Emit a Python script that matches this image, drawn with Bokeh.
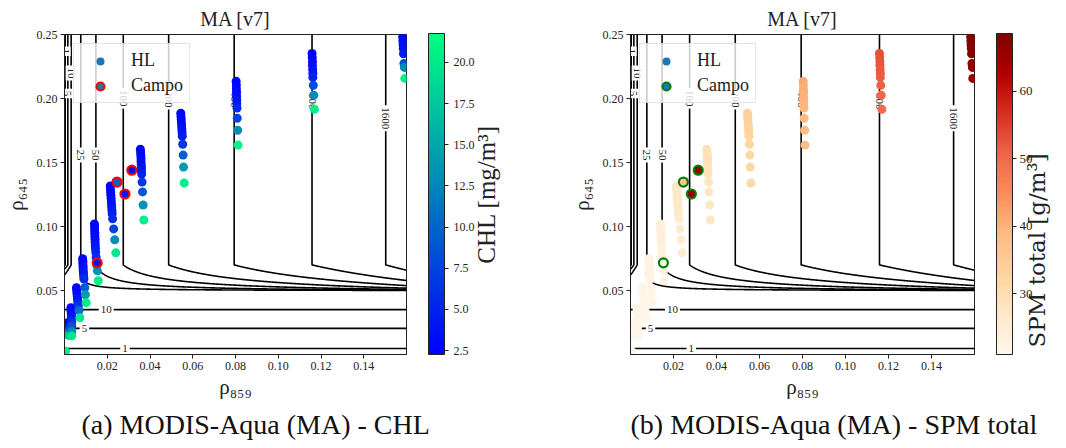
import numpy as np
from bokeh.plotting import figure
from bokeh.layouts import row
from bokeh.models import (ColumnDataSource, LinearColorMapper, ColorBar, FixedTicker,
                          PrintfTickFormatter, Legend, LegendItem, Title, LinearAxis)
from bokeh.transform import transform
from bokeh.core.properties import value
from bokeh.embed import file_html
from bokeh.resources import INLINE

SERIF = "Liberation Serif"
WIDE_SERIF = "DejaVu Serif"

# ---------------- HL points, one list per column ----------------
colA0_x = [0.0005]
colA0_y = [0.0025]
colA0_chl = [20.5]
colA0_spm = [21.2]

colA1_x = [0.0014, 0.0015, 0.0015, 0.0016, 0.0016, 0.0017, 0.0018, 0.0019]
colA1_y = [0.0249, 0.0238, 0.0227, 0.0216, 0.0205, 0.0190, 0.0171, 0.0150]
colA1_chl = [2.4, 2.7, 3.0, 3.5, 4.2, 6.0, 10.0, 17.0]
colA1_spm = [21.8, 21.8, 21.6, 21.6, 21.5, 21.5, 21.3, 21.3]

colA2_x = [0.0030, 0.0031, 0.0031, 0.0032, 0.0032, 0.0033, 0.0033, 0.0034, 0.0034, 0.0034, 0.0034]
colA2_y = [0.0366, 0.0350, 0.0334, 0.0318, 0.0302, 0.0286, 0.0270, 0.0250, 0.0220, 0.0180, 0.0145]
colA2_chl = [2.3, 2.5, 2.8, 3.1, 3.5, 4.0, 4.7, 6.0, 8.5, 13.0, 20.0]
colA2_spm = [22.0, 22.0, 22.0, 22.0, 21.8, 21.8, 21.8, 21.6, 21.6, 21.5, 21.5]

colB_x = [0.0056, 0.0057, 0.0058, 0.0059, 0.0060, 0.0061, 0.0062, 0.0063, 0.0065, 0.0068, 0.0072]
colB_y = [0.0522, 0.0505, 0.0488, 0.0471, 0.0454, 0.0437, 0.0420, 0.0400, 0.0380, 0.0343, 0.0288]
colB_chl = [2.3, 2.5, 2.8, 3.1, 3.4, 3.8, 4.3, 5.0, 6.5, 11.0, 20.0]
colB_spm = [22.5, 22.5, 22.5, 22.0, 22.0, 22.0, 22.0, 22.0, 21.8, 21.8, 21.5]

colC_x = [0.0085, 0.0086, 0.0086, 0.0087, 0.0087, 0.0088, 0.0089, 0.0090, 0.0091, 0.0095, 0.0098, 0.0102]
colC_y = [0.0748, 0.0728, 0.0708, 0.0688, 0.0668, 0.0648, 0.0628, 0.0608, 0.0590, 0.0522, 0.0467, 0.0405]
colC_chl = [2.3, 2.5, 2.7, 3.0, 3.3, 3.6, 4.0, 4.6, 5.5, 9.0, 14.0, 20.5]
colC_spm = [23.0, 23.0, 23.0, 23.0, 22.5, 22.5, 22.5, 22.5, 22.5, 22.0, 22.0, 22.0]

colD_x = [0.0140, 0.0141, 0.0141, 0.0142, 0.0142, 0.0143, 0.0143, 0.0144, 0.0145, 0.0146, 0.0148, 0.0151, 0.0154, 0.0158]
colD_y = [0.1020, 0.0996, 0.0972, 0.0948, 0.0924, 0.0900, 0.0876, 0.0852, 0.0828, 0.0800, 0.0760, 0.0700, 0.0654, 0.0576]
colD_chl = [2.3, 2.5, 2.7, 2.9, 3.1, 3.3, 3.6, 3.9, 4.3, 4.9, 5.8, 8.0, 13.5, 20.5]
colD_spm = [24.5, 24.5, 24.5, 24.0, 24.0, 24.0, 24.0, 24.0, 23.5, 23.5, 23.5, 23.0, 23.0, 23.0]

colE_x = [0.0214, 0.0215, 0.0216, 0.0217, 0.0218, 0.0219, 0.0220, 0.0221, 0.0222, 0.0223, 0.0225, 0.0230, 0.0235, 0.0240]
colE_y = [0.1316, 0.1292, 0.1268, 0.1244, 0.1220, 0.1196, 0.1172, 0.1148, 0.1124, 0.1100, 0.1060, 0.0981, 0.0896, 0.0794]
colE_chl = [2.3, 2.5, 2.7, 2.9, 3.1, 3.3, 3.6, 3.9, 4.3, 4.8, 5.6, 7.5, 13.0, 20.0]
colE_spm = [27.5, 27.5, 27.0, 27.0, 27.0, 27.0, 26.5, 26.5, 26.5, 26.5, 26.0, 26.0, 25.5, 25.5]

colF_x = [0.0355, 0.0356, 0.0357, 0.0358, 0.0358, 0.0359, 0.0360, 0.0360, 0.0361, 0.0363, 0.0365, 0.0368, 0.0371]
colF_y = [0.1604, 0.1580, 0.1556, 0.1532, 0.1508, 0.1484, 0.1459, 0.1435, 0.1410, 0.1347, 0.1270, 0.1168, 0.1051]
colF_chl = [2.3, 2.5, 2.7, 2.9, 3.1, 3.4, 3.7, 4.1, 4.7, 6.5, 9.0, 13.5, 20.5]
colF_spm = [29.5, 29.5, 29.0, 29.0, 29.0, 29.0, 28.5, 28.5, 28.5, 28.0, 28.0, 27.5, 27.5]

colG_x = [0.0544, 0.0545, 0.0546, 0.0547, 0.0548, 0.0549, 0.0550, 0.0551, 0.0553, 0.0555, 0.0557, 0.0560]
colG_y = [0.1885, 0.1860, 0.1835, 0.1810, 0.1785, 0.1758, 0.1732, 0.1706, 0.1643, 0.1558, 0.1464, 0.1340]
colG_chl = [2.3, 2.5, 2.7, 2.9, 3.2, 3.5, 3.9, 4.5, 6.5, 9.5, 14.0, 20.5]
colG_spm = [34.0, 34.0, 33.5, 33.5, 33.0, 33.0, 33.0, 32.5, 32.5, 32.0, 32.0, 31.5]

colH_x = [0.0803, 0.0804, 0.0804, 0.0805, 0.0805, 0.0806, 0.0806, 0.0807, 0.0808, 0.0810, 0.0812]
colH_y = [0.2134, 0.2105, 0.2076, 0.2047, 0.2018, 0.1989, 0.1960, 0.1925, 0.1846, 0.1752, 0.1636]
colH_chl = [2.4, 2.6, 2.8, 3.1, 3.4, 3.8, 4.4, 5.3, 7.5, 13.0, 21.0]
colH_spm = [41.0, 41.0, 40.5, 40.5, 40.0, 40.0, 39.5, 39.5, 39.0, 38.5, 38.0]

colI_x = [0.1158, 0.1159, 0.1160, 0.1160, 0.1161, 0.1162, 0.1162, 0.1164, 0.1166, 0.1169]
colI_y = [0.2352, 0.2321, 0.2290, 0.2259, 0.2227, 0.2196, 0.2165, 0.2103, 0.2025, 0.1916]
colI_chl = [2.4, 2.6, 2.9, 3.2, 3.6, 4.2, 5.0, 8.0, 13.0, 20.5]
colI_spm = [53.0, 53.0, 52.5, 52.5, 52.0, 52.0, 51.5, 51.0, 50.5, 50.0]

colJ_x = [0.1580, 0.1581, 0.1582, 0.1583, 0.1584, 0.1585, 0.1586, 0.1588, 0.1590, 0.1592]
colJ_y = [0.2560, 0.2520, 0.2480, 0.2450, 0.2420, 0.2390, 0.2350, 0.2274, 0.2243, 0.2157]
colJ_chl = [2.3, 2.5, 2.7, 3.0, 3.3, 3.8, 4.6, 8.5, 13.0, 20.5]
colJ_spm = [69.0, 68.5, 68.0, 68.0, 67.5, 67.0, 67.0, 66.5, 66.0, 65.5]

hl_x = colA0_x + colA1_x + colA2_x + colB_x + colC_x + colD_x + colE_x + colF_x + colG_x + colH_x + colI_x + colJ_x
hl_y = colA0_y + colA1_y + colA2_y + colB_y + colC_y + colD_y + colE_y + colF_y + colG_y + colH_y + colI_y + colJ_y
hl_chl = colA0_chl + colA1_chl + colA2_chl + colB_chl + colC_chl + colD_chl + colE_chl + colF_chl + colG_chl + colH_chl + colI_chl + colJ_chl
hl_spm = colA0_spm + colA1_spm + colA2_spm + colB_spm + colC_spm + colD_spm + colE_spm + colF_spm + colG_spm + colH_spm + colI_spm + colJ_spm

# ---------------- Campo (field) points ----------------
campo_x = [0.0315, 0.0246, 0.0283, 0.0153]
campo_y = [0.1440, 0.1347, 0.1254, 0.0716]
campo_chl = [3.0, 9.5, 4.0, 4.0]
campo_spm = [66.0, 36.0, 66.0, 22.0]

# ---------------- SPM model used for the contour lines ----------------
A859, C859 = 3170.0, 0.214     # NIR branch (rho859)
A645, C645 = 204.5, 0.1235     # red branch (rho645)
BLEND_LO, BLEND_HI = 0.05, 0.07
contour_levels = [1, 5, 10, 25, 50, 100, 200, 400, 800, 1600]
vlabel_levels = [1, 5, 10, 25, 50, 100, 200, 400, 800, 1600]
vlabel_y = [0.237, 0.204, 0.220, 0.1558, 0.1558, 0.2002, 0.1994, 0.1994, 0.1978, 0.1846]
hlabel_levels = [1, 5, 10]
hlabel_x = [0.0283, 0.0093, 0.0195]

x_ticks = [0.02, 0.04, 0.06, 0.08, 0.10, 0.12, 0.14]
y_ticks = [0.05, 0.10, 0.15, 0.20, 0.25]
chl_ticks = [2.5, 5.0, 7.5, 10.0, 12.5, 15.0, 17.5, 20.0]
spm_ticks = [30, 40, 50, 60]
CHL_LOW, CHL_HIGH = 2.26, 21.76
SPM_LOW, SPM_HIGH = 21.0, 68.6

# ---------------- palettes ----------------
def to_hex(r, g, b):
    return "#%02x%02x%02x" % (int(round(r)), int(round(g)), int(round(b)))

winter = [to_hex(0, 255 * t, 255 * (1 - 0.5 * t)) for t in np.linspace(0, 1, 256)]
orrd_nodes = ["#fff7ec", "#fee8c8", "#fdd49e", "#fdbb84", "#fc8d59", "#ef6548", "#d7301f", "#b30000", "#7f0000"]
_rgb = np.array([[int(c[i:i + 2], 16) for i in (1, 3, 5)] for c in orrd_nodes], dtype=float)
_pos = np.linspace(0, 1, len(orrd_nodes))
orrd = [to_hex(*[np.interp(t, _pos, _rgb[:, k]) for k in range(3)]) for t in np.linspace(0, 1, 256)]

# ---------------- contour grid ----------------
gx = np.linspace(0.0, 0.16, 641)
gy = np.linspace(0.0, 0.25, 1001)
GX, GY = np.meshgrid(gx, gy)
f859 = A859 * GX / (1.0 - GX / C859)
ysafe = np.minimum(GY, 0.1)
f645 = A645 * ysafe / (1.0 - ysafe / C645)
w = np.clip((GY - BLEND_LO) / (BLEND_HI - BLEND_LO), 0.0, 1.0)
Z = (1.0 - w) * f645 + w * f859


def make_panel(color_values, palette, low, high, ticks, fmt, ring_color, cb_label,
               cb_label_font, cb_label_size, cb_tick_size, cb_tick_standoff, cb_label_standoff,
               cb_label_start, width, border_left, border_right, caption, caption_offset):
    p = figure(width=width, height=448, x_range=(0.0, 0.16), y_range=(0.0, 0.25),
               output_backend="svg", toolbar_location=None,
               min_border_left=border_left, min_border_right=border_right,
               min_border_top=33, min_border_bottom=94)
    p.grid.visible = False
    p.outline_line_color = "#222222"
    p.background_fill_color = "white"

    p.title.text = "MA [v7]"
    p.title.align = "center"
    p.title.text_font = SERIF
    p.title.text_font_size = "20px"
    p.title.text_font_style = "normal"
    p.title.text_color = "#222222"

    for ax in (p.xaxis[0], p.yaxis[0]):
        ax.major_tick_in = 0
        ax.major_tick_out = 4
        ax.minor_tick_line_color = None
        ax.major_label_text_font = SERIF
        ax.major_label_text_font_size = "12px"
        ax.major_label_text_color = "#222222"
        ax.axis_line_color = "#222222"
        ax.major_tick_line_color = "#222222"
        ax.axis_label_text_font = SERIF
        ax.axis_label_text_font_size = "21px"
        ax.axis_label_text_font_style = "normal"
        ax.axis_label_text_color = "#222222"
        ax.major_label_standoff = 3
    p.xaxis.ticker = FixedTicker(ticks=x_ticks)
    p.yaxis.ticker = FixedTicker(ticks=y_ticks)
    p.xaxis.formatter = PrintfTickFormatter(format="%.2f")
    p.yaxis.formatter = PrintfTickFormatter(format="%.2f")
    p.xaxis.axis_label = "ρ₈₅₉"
    p.yaxis.axis_label = "ρ₆₄₅"
    p.xaxis.axis_label_standoff = 2
    p.yaxis.axis_label_standoff = 6

    # contour lines
    p.contour(x=gx, y=gy, z=Z, levels=contour_levels, line_color="black", line_width=1.6)

    # contour labels
    vx = [L / (A859 + L / C859) for L in vlabel_levels]
    hy = [L / (A645 + L / C645) for L in hlabel_levels]
    lab_src = ColumnDataSource(dict(
        x=vx + hlabel_x,
        y=vlabel_y + hy,
        text=[str(L) for L in vlabel_levels] + [str(L) for L in hlabel_levels],
        angle=[-np.pi / 2] * len(vlabel_levels) + [0.0] * len(hlabel_levels),
    ))
    p.text(x="x", y="y", text="text", angle="angle", source=lab_src,
           text_align="center", text_baseline="middle",
           text_font=value(SERIF), text_font_size="11px", text_color="#222222",
           background_fill_color="white", padding=2)

    mapper = LinearColorMapper(palette=palette, low=low, high=high)
    src = ColumnDataSource(dict(x=hl_x, y=hl_y, c=color_values[0]))
    p.scatter(x="x", y="y", source=src, size=9,
              fill_color=transform("c", mapper), line_color=None)
    csrc = ColumnDataSource(dict(x=campo_x, y=campo_y, c=color_values[1]))
    p.scatter(x="x", y="y", source=csrc, size=9,
              fill_color=transform("c", mapper), line_color=ring_color, line_width=2.2)

    # legend proxies (no visible data)
    nan1 = np.array([np.nan])
    r_hl = p.scatter(x=nan1, y=nan1, size=9, fill_color="#1f77b4", line_color=None)
    r_campo = p.scatter(x=nan1, y=nan1, size=9, fill_color="#1f77b4",
                        line_color=ring_color, line_width=2.2)
    legend = Legend(items=[LegendItem(label="HL", renderers=[r_hl]),
                           LegendItem(label="Campo", renderers=[r_campo])],
                    location="top_left", margin=9, padding=6, spacing=4,
                    glyph_width=40, glyph_height=20, label_height=20, label_standoff=11,
                    label_text_font=SERIF, label_text_font_size="18px",
                    label_text_color="#222222",
                    border_line_color="#cccccc", border_line_width=1,
                    background_fill_alpha=0.8)
    p.add_layout(legend)

    cb = ColorBar(color_mapper=mapper, width=16, height=321, padding=0, margin=0,
                  location=(22, 0),
                  ticker=FixedTicker(ticks=ticks), formatter=PrintfTickFormatter(format=fmt),
                  major_label_text_font=SERIF, major_label_text_font_size=cb_tick_size,
                  major_label_text_color="#222222", label_standoff=cb_tick_standoff,
                  major_tick_in=0, major_tick_out=4, major_tick_line_color="#222222",
                  bar_line_color="#222222", bar_line_width=1,
                  border_line_color=None, background_fill_color=None)
    p.add_layout(cb, "right")

    # colour-bar caption, drawn as the single (rotated) tick label of a bare right axis
    lab_ax = LinearAxis(ticker=FixedTicker(ticks=[cb_label_start]),
                        formatter=PrintfTickFormatter(format=cb_label),
                        axis_line_color=None, major_tick_line_color=None,
                        minor_tick_line_color=None, major_tick_in=0, major_tick_out=0,
                        major_label_orientation=np.pi / 2,
                        major_label_text_font=cb_label_font,
                        major_label_text_font_size=cb_label_size,
                        major_label_text_color="#222222",
                        major_label_standoff=cb_label_standoff)
    p.add_layout(lab_ax, "right")

    cap = Title(text=caption, align="left", text_font=SERIF, text_font_size="28px",
                text_font_style="normal", text_color="#111111", offset=caption_offset)
    p.add_layout(cap, "below")
    return p


p1 = make_panel((hl_chl, campo_chl), winter, CHL_LOW, CHL_HIGH, chl_ticks, "%.1f",
                "red", "CHL [mg/m³]", SERIF, "25px", "12px", 5, 9, 0.0709, 560, 61, 154,
                "(a) MODIS-Aqua (MA) - CHL", 17)
p2 = make_panel((hl_spm, campo_spm), orrd, SPM_LOW, SPM_HIGH, spm_ticks, "%d",
                "green", "SPM total [g/m³]", WIDE_SERIF, "23px", "13px", 3, 2, 0.0055,
                506, 70, 91, "(b) MODIS-Aqua (MA) - SPM total", 0)

layout = row(p1, p2)
open("out.html", "w").write(file_html(layout, INLINE))
